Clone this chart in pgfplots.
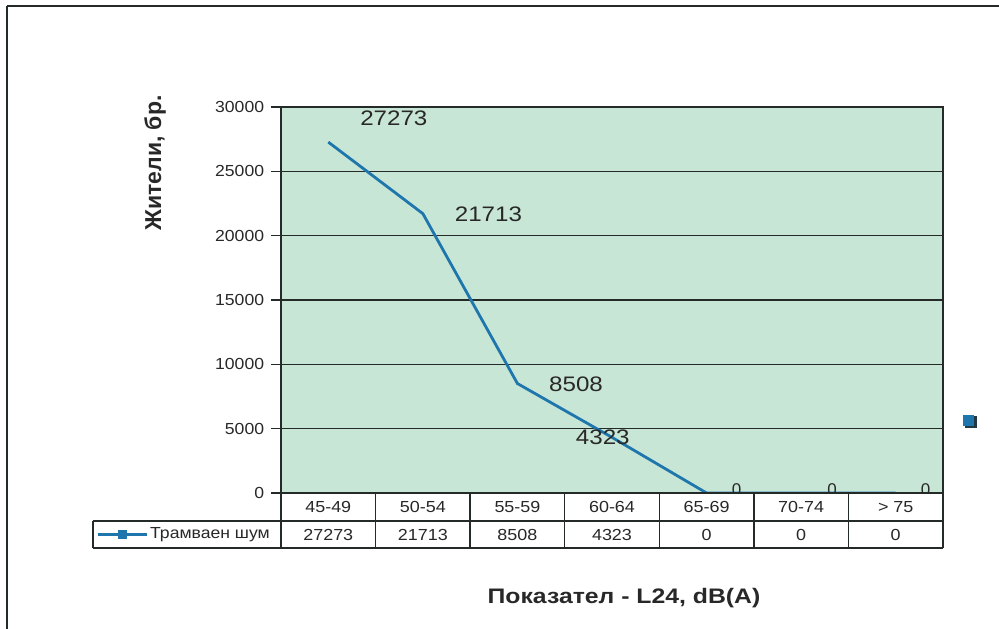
\documentclass[border=0pt]{standalone}
\usepackage{pgfplots}
\pgfplotsset{compat=1.18}
\usepackage{fontspec}
\setmainfont{Liberation Sans}
\definecolor{plotbg}{RGB}{200,230,214}
\definecolor{linec}{RGB}{30,118,172}
\definecolor{gridc}{RGB}{35,42,40}
\definecolor{txt}{RGB}{40,40,40}
\begin{document}
\begin{tikzpicture}[x=1pt,y=1pt]
\useasboundingbox (-281,-136) rectangle (718,493);
\begin{axis}[at={(0,0)}, anchor=south west, scale only axis,
  width=662pt, height=386pt,
  xmin=0, xmax=7, ymin=0, ymax=30000,
  axis background/.style={fill=plotbg},
  xtick=\empty, ytick={0,5000,...,30000},
  ymajorgrids, grid style={gridc, line width=1.5pt},
  axis line style={gridc, line width=1.7pt},
  tick style={gridc, line width=1.5pt},
  major tick length=10pt, tick align=outside, ytick pos=left,
  yticklabel style={font=\fontsize{16}{19}\selectfont, text=txt, xshift=-3pt, xscale=1.1},
  /pgf/number format/assume math mode=true,
  /pgf/number format/1000 sep={},
  scaled y ticks=false,
  clip=false]
\addplot[linec, line width=2.8pt, mark=none] coordinates {
  (0.5,27273) (1.5,21713) (2.5,8508) (3.5,4323) (4.5,0) (5.5,0) (6.5,0)};
\node[font=\fontsize{21}{24}\selectfont, text=txt, xscale=1.15] at (axis cs:0.5,27273) [xshift=57pt, yshift=24pt] {27273};
\node[font=\fontsize{21}{24}\selectfont, text=txt, xscale=1.15] at (axis cs:1.5,21713) [xshift=57pt, yshift=-1pt] {21713};
\node[font=\fontsize{21}{24}\selectfont, text=txt, xscale=1.15] at (axis cs:2.5,8508) [xshift=51pt, yshift=-1pt] {8508};
\node[font=\fontsize{21}{24}\selectfont, text=txt, xscale=1.15] at (axis cs:3.5,4323) [xshift=-8pt, yshift=0pt] {4323};
\node[font=\fontsize{17}{20}\selectfont, text=txt] at (axis cs:4.5,0) [xshift=30pt, yshift=3.5pt] {0};
\node[font=\fontsize{17}{20}\selectfont, text=txt] at (axis cs:5.5,0) [xshift=31pt, yshift=3.5pt] {0};
\node[font=\fontsize{17}{20}\selectfont, text=txt] at (axis cs:6.5,0) [xshift=30pt, yshift=3.5pt] {0};
\end{axis}
% data table
\fill[white] (0,-0.8) rectangle (662,-55);
\draw[gridc, line width=1.6pt] (0,0) -- (662,0);
\draw[gridc, line width=1.5pt] (-188,-28) -- (662,-28);
\draw[gridc, line width=1.5pt] (-188,-55) -- (662,-55);
\draw[gridc, line width=1.5pt] (-188,-28) -- (-188,-55);
\foreach \k in {0,...,7} {
  \draw[gridc, line width=1.5pt] ({\k*94.571},0) -- ({\k*94.571},-55);
}
\foreach \lab [count=\i from 0] in {45-49,50-54,55-59,60-64,65-69,70-74,> 75} {
  \node[font=\fontsize{16}{18}\selectfont, text=txt, xscale=1.12] at ({(\i+0.5)*94.571},-14) {\lab};
}
\foreach \v [count=\i from 0] in {27273,21713,8508,4323,0,0,0} {
  \node[font=\fontsize{16}{18}\selectfont, text=txt, xscale=1.12] at ({(\i+0.5)*94.571},-41.5) {\v};
}
% legend key in table
\draw[linec, line width=2.2pt] (-183,-41.5) -- (-134,-41.5);
\fill[linec] (-163,-46) rectangle (-154,-37);
\node[font=\fontsize{16}{18}\selectfont, text=txt, anchor=west, xscale=1.1, inner sep=0pt] at (-131,-41.5) {Трамваен шум};
% stray legend marker on the right
\fill[gridc!80!linec] (684,65) rectangle (696,77);
\fill[linec] (682,67) rectangle (693,78);
% titles
\node[font=\bfseries\fontsize{23}{26}\selectfont, text=txt, rotate=90] at (-126,330) {Жители, бр.};
\node[font=\bfseries\fontsize{21}{24}\selectfont, text=txt, xscale=1.18] at (343,-105) {Показател - L24, dB(A)};
% outer frame
\draw[gridc, line width=1.8pt] (-274,487) -- (718,487);
\draw[gridc, line width=1.8pt] (-274,487) -- (-274,-136);
\end{tikzpicture}
\end{document}
